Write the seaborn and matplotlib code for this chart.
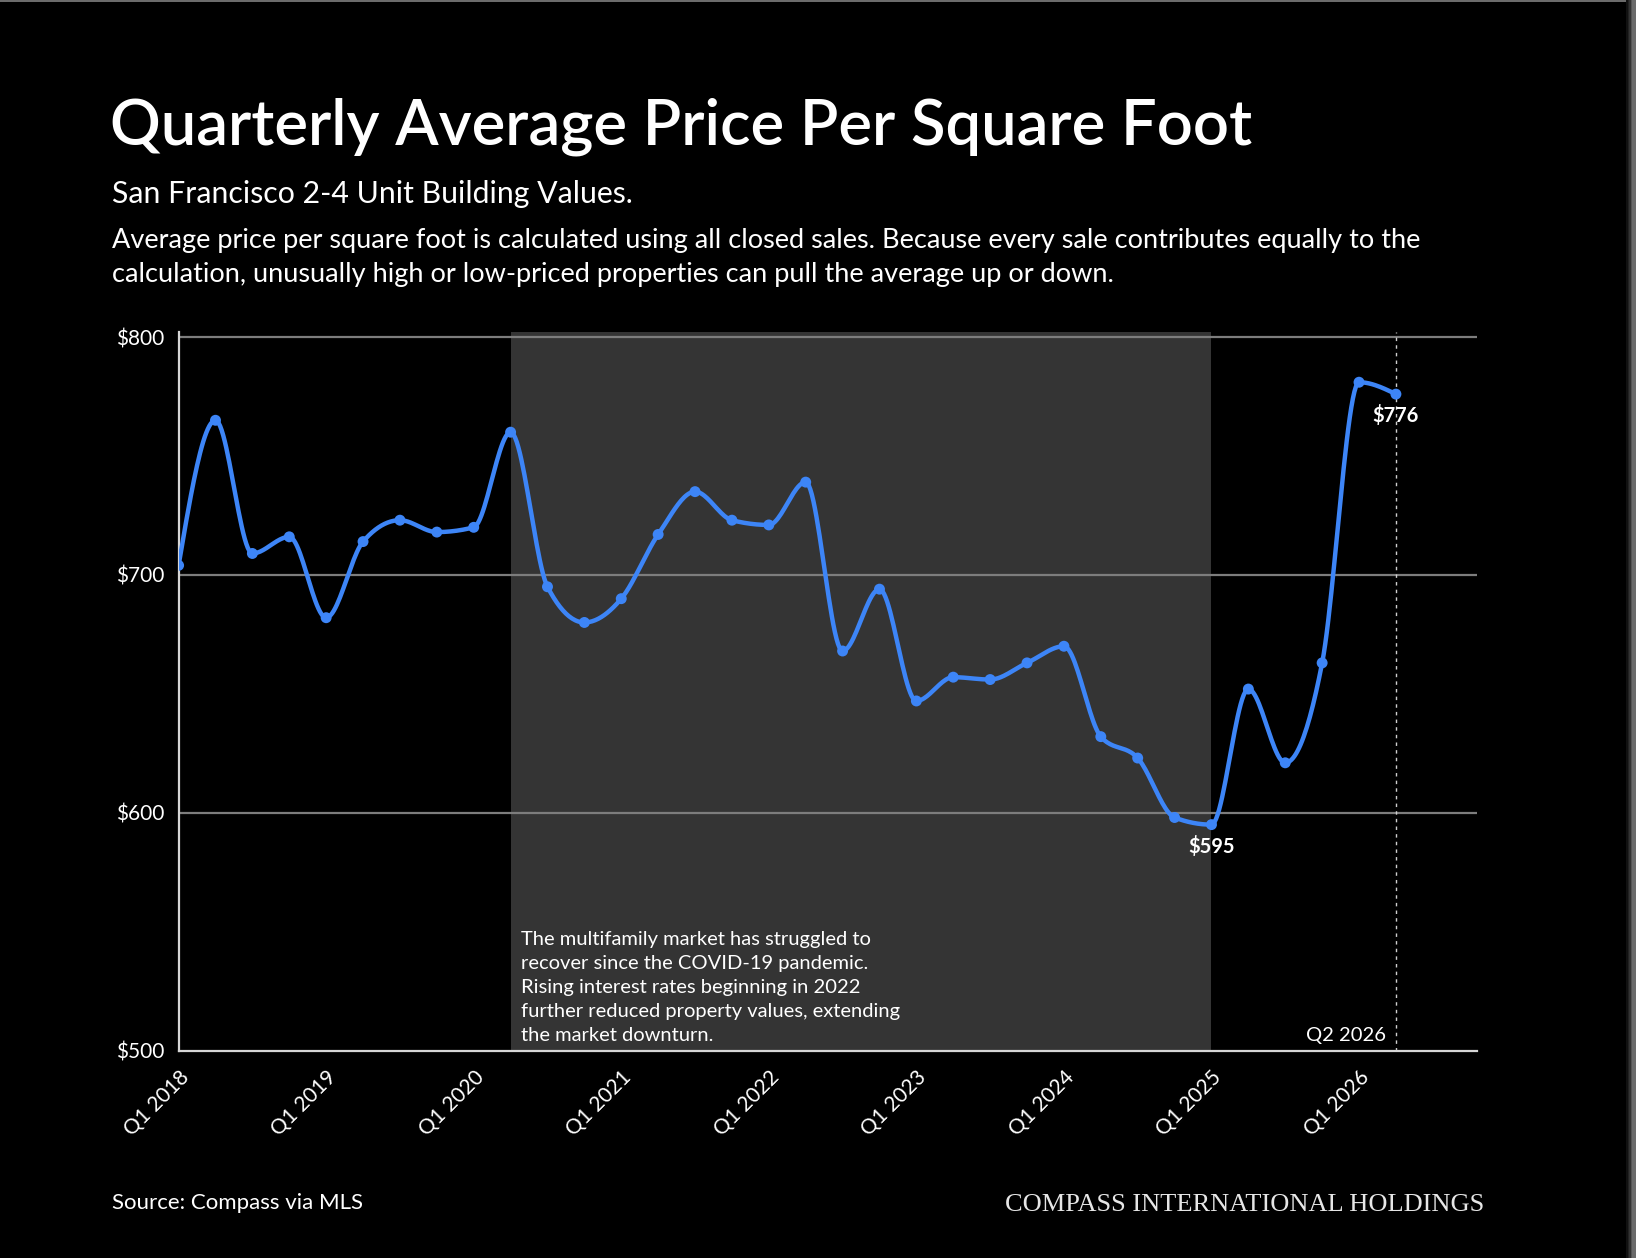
import numpy as np
import pandas as pd
import matplotlib
matplotlib.use("Agg")
import matplotlib.pyplot as plt
import seaborn as sns
from matplotlib.patches import Rectangle

# ---------------- data ----------------
quarters = ["Q1 2018", "Q2 2018", "Q3 2018", "Q4 2018",
            "Q1 2019", "Q2 2019", "Q3 2019", "Q4 2019",
            "Q1 2020", "Q2 2020", "Q3 2020", "Q4 2020",
            "Q1 2021", "Q2 2021", "Q3 2021", "Q4 2021",
            "Q1 2022", "Q2 2022", "Q3 2022", "Q4 2022",
            "Q1 2023", "Q2 2023", "Q3 2023", "Q4 2023",
            "Q1 2024", "Q2 2024", "Q3 2024", "Q4 2024",
            "Q1 2025", "Q2 2025", "Q3 2025", "Q4 2025",
            "Q1 2026", "Q2 2026"]
price_per_sqft = [704, 765, 709, 716,
                  682, 714, 723, 718,
                  720, 760, 695, 680,
                  690, 717, 735, 723,
                  721, 739, 668, 694,
                  647, 657, 656, 663,
                  670, 632, 623, 598,
                  595, 652, 621, 663,
                  781, 776]
tick_labels = ["Q1 2018", "Q1 2019", "Q1 2020", "Q1 2021", "Q1 2022",
               "Q1 2023", "Q1 2024", "Q1 2025", "Q1 2026"]
y_ticks = [500, 600, 700, 800]
y_tick_labels = ["$500", "$600", "$700", "$800"]
shade_start, shade_end = "Q2 2020", "Q1 2025"
callouts = {"Q1 2025": "$595", "Q2 2026": "$776"}

title = "Quarterly Average Price Per Square Foot"
subtitle = "San Francisco 2-4 Unit Building Values."
desc_lines = ["Average price per square foot is calculated using all closed sales. Because every sale contributes equally to the",
              "calculation, unusually high or low-priced properties can pull the average up or down."]
note_lines = ["The multifamily market has struggled to",
              "recover since the COVID-19 pandemic.",
              "Rising interest rates beginning in 2022",
              "further reduced property values, extending",
              "the market downturn."]
source = "Source: Compass via MLS"
brand = "COMPASS INTERNATIONAL HOLDINGS"

# ---------------- style ----------------
sns.set_style("dark", {"axes.facecolor": "black", "figure.facecolor": "black"})
plt.rcParams["font.family"] = ["Lato", "DejaVu Sans"]

W, H = 1636, 1258
BLUE = "#3d85f7"

df = pd.DataFrame({"quarter": quarters, "value": price_per_sqft})
df["idx"] = np.arange(len(df))


def monotone_x(x, y, n=24):
    """Monotone cubic (Steffen) curve used only for drawing the smooth line."""
    x = np.asarray(x, float)
    y = np.asarray(y, float)
    h = np.diff(x)
    s = np.diff(y) / h
    m = np.zeros_like(y)
    for i in range(1, len(y) - 1):
        p = (s[i - 1] * h[i] + s[i] * h[i - 1]) / (h[i - 1] + h[i])
        m[i] = (np.sign(s[i - 1]) + np.sign(s[i])) * min(abs(s[i - 1]), abs(s[i]), 0.5 * abs(p))
    m[0] = (3 * s[0] - m[1]) / 2
    m[-1] = (3 * s[-1] - m[-2]) / 2
    xs, ys = [], []
    for i in range(len(x) - 1):
        t = np.linspace(0, 1, n, endpoint=(i == len(x) - 2))
        h00 = 2 * t**3 - 3 * t**2 + 1
        h10 = t**3 - 2 * t**2 + t
        h01 = -2 * t**3 + 3 * t**2
        h11 = t**3 - t**2
        xs.append(x[i] + t * h[i])
        ys.append(h00 * y[i] + h10 * h[i] * m[i] + h01 * y[i + 1] + h11 * h[i] * m[i + 1])
    return np.concatenate(xs), np.concatenate(ys)


fig = plt.figure(figsize=(W / 100, H / 100), dpi=100, facecolor="black")

ax_left, ax_right = 178.6, 1476.7
ax_top, ax_bottom = 331.8, 1050.6
ax = fig.add_axes([ax_left / W, 1 - ax_bottom / H, (ax_right - ax_left) / W, (ax_bottom - ax_top) / H])
ax.set_facecolor("black")

# shaded period
i0, i1 = quarters.index(shade_start), quarters.index(shade_end)
ax.axvspan(i0, i1, color="#343434", zorder=0, lw=0)

# gridlines
for yv in y_ticks[1:]:
    ax.axhline(yv, color="#7d7d7d", lw=1.6, zorder=1)

# dotted marker line for latest quarter
ax.axvline(len(quarters) - 1, color="#cfcfcf", lw=1.0, ls=(0, (2.5, 3)), zorder=1)

# smooth line + points
sx, sy = monotone_x(df["idx"], df["value"])
sns.lineplot(x=sx, y=sy, ax=ax, color=BLUE, lw=3.2, sort=False, estimator=None, zorder=3)
sns.scatterplot(data=df, x="idx", y="value", ax=ax, color=BLUE, s=62, edgecolor="none", zorder=4)

ax.set_xlim(0, 35.19)
ax.set_ylim(500, 802.2)
ax.set_xticks([quarters.index(t) for t in tick_labels])
ax.set_xticklabels(tick_labels, rotation=45, ha="right", va="top", rotation_mode="anchor")
ax.set_yticks(y_ticks)
ax.set_yticklabels(y_tick_labels)
ax.set_xlabel("")
ax.set_ylabel("")
ax.grid(False)
ax.tick_params(axis="both", colors="#e0e0e0", labelcolor="white", labelsize=15,
               length=6, width=1.4, direction="out", pad=4)
ax.tick_params(axis="x", pad=6)
for side in ["top", "right"]:
    ax.spines[side].set_visible(False)
for side in ["left", "bottom"]:
    ax.spines[side].set_visible(True)
    ax.spines[side].set_color("#d6d6d6")
    ax.spines[side].set_linewidth(1.6)
    ax.spines[side].set_zorder(2)

# callouts
for q, lab in callouts.items():
    xi = quarters.index(q)
    ax.annotate(lab, xy=(xi, price_per_sqft[xi]), xytext=(0, -8), textcoords="offset points",
                ha="center", va="top", color="white", fontsize=14.5, fontweight="bold", zorder=5)
ax.annotate("Q2 2026", xy=(len(quarters) - 1, 500), xytext=(-7, 5), textcoords="offset points",
            ha="right", va="bottom", color="white", fontsize=14.5)


def px(x, y):
    return x / W, 1 - y / H


# header text
fig.text(*px(110, 144), title, color="white", fontsize=45.5, fontweight="semibold", ha="left", va="baseline")
fig.text(*px(112, 203), subtitle, color="white", fontsize=21.8, ha="left", va="baseline")
for k, line in enumerate(desc_lines):
    fig.text(*px(112, 248 + 34 * k), line, color="white", fontsize=19.5, ha="left", va="baseline")

# note inside shaded region
for k, line in enumerate(note_lines):
    fig.text(*px(521, 945 + 24 * k), line, color="white", fontsize=14.5, ha="left", va="baseline")

# footer
fig.text(*px(112, 1209), source, color="white", fontsize=16, ha="left", va="baseline")
fig.text(*px(1484, 1211), brand, color="#e6e6e6", fontsize=19, ha="right", va="baseline",
         family=["Liberation Serif", "DejaVu Serif"])

# screenshot frame edges
fig.patches.append(Rectangle((0, 1 - 1.5 / H), 1, 1.5 / H, transform=fig.transFigure,
                             color="#6b6b6b", lw=0, zorder=-1))
for k, c in enumerate(["#111111", "#222222", "#333333", "#555555", "#6b6b6b", "#6b6b6b", "#6b6b6b"]):
    xs0 = 1626 + k * 1.5
    fig.patches.append(Rectangle((xs0 / W, 0), 1.6 / W, 1, transform=fig.transFigure,
                                 color=c, lw=0, zorder=-1))

fig.savefig("out.png", dpi=100, facecolor="black")
